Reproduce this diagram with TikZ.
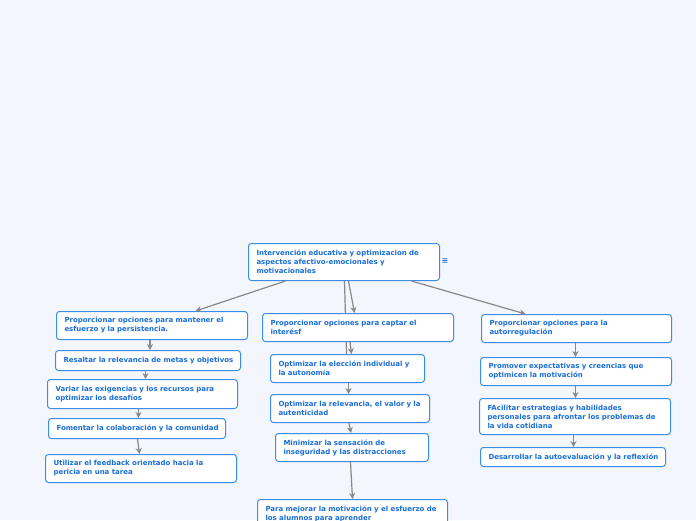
\documentclass[tikz,border=0pt]{standalone}
\usepackage{fontspec}
\setmainfont{DejaVu Sans}
\usetikzlibrary{arrows.meta}
\definecolor{canvas}{RGB}{244,246,253}
\definecolor{ideaborder}{RGB}{58,142,230}
\definecolor{ideatext}{RGB}{25,110,215}
\definecolor{linkgray}{RGB}{136,136,136}
\pgfdeclarelayer{canvas}
\pgfdeclarelayer{wire}
\pgfsetlayers{canvas,wire,main}
\tikzset{
  idea/.style={draw=ideaborder, fill=white, line width=1pt, rounded corners=3pt,
    anchor=north west, align=left, inner xsep=8pt, inner ysep=0pt,
    font=\fontsize{7}{9}\selectfont\bfseries, text=ideatext},
  link/.style={draw=linkgray, line width=1.2pt, -{Stealth[length=6pt,width=6pt]}},
}
\begin{document}
\begin{tikzpicture}[x=1pt,y=-1pt]
			% Canvas
			\useasboundingbox (0,0) rectangle (696,520);
			\clip (0,0) rectangle (696,520);
			\begin{pgfonlayer}{canvas}
				\fill[canvas] (0,0) rectangle (696,520);
			\end{pgfonlayer}

			% Central topic
			\node[idea, text width=175pt, minimum height=37pt] (root) at (248,243)
				{Intervención educativa y optimizacion de\\aspectos afectivo-emocionales y\\motivacionales};
			\node[font=\fontsize{8}{8}\selectfont\bfseries, text=ideatext, inner sep=0pt] (menu) at (445,261) {≡};

			% Left branch
			\node[idea, text width=175pt, minimum height=28pt] (l1) at (56,311)
				{Proporcionar opciones para mantener el\\esfuerzo y la persistencia.};
			\node[idea, text width=169pt, minimum height=20pt] (l2) at (55,350)
				{\mbox{Resaltar la relevancia de metas y objetivos}};
			\node[idea, text width=174pt, minimum height=29pt] (l3) at (47,379)
				{Variar las exigencias y los recursos para\\optimizar los desafíos};
			\node[idea, text width=161pt, minimum height=20pt] (l4) at (48,418)
				{\mbox{Fomentar la colaboración y la comunidad}};
			\node[idea, text width=175pt, minimum height=28pt] (l5) at (45,454)
				{Utilizar el feedback orientado hacia la\\pericia en una tarea};

			% Middle branch
			\node[idea, text width=175pt, minimum height=28pt] (m1) at (262,313)
				{Proporcionar opciones para captar el\\interésf};
			\node[idea, text width=138pt, minimum height=28pt] (m2) at (270,354)
				{Optimizar la elección individual y\\la autonomía};
			\node[idea, text width=143pt, minimum height=28pt] (m3) at (270,394)
				{Optimizar la relevancia, el valor y la\\autenticidad};
			\node[idea, text width=137pt, minimum height=28pt] (m4) at (275,433)
				{Minimizar la sensación de\\inseguridad y las distracciones};
			\node[idea, text width=174pt, minimum height=29pt] (m5) at (257,499)
				{Para mejorar la motivación y el esfuerzo de\\los alumnos para aprender};

			% Right branch
			\node[idea, text width=174pt, minimum height=28pt] (r1) at (481,314)
				{Proporcionar opciones para la\\autorregulación};
			\node[idea, text width=175pt, minimum height=28pt] (r2) at (480,357)
				{Promover expectativas y creencias que\\optimicen la motivación};
			\node[idea, text width=175pt, minimum height=36pt] (r3) at (479,398)
				{FAcilitar estrategias y habilidades\\personales para afrontar los problemas de\\la vida cotidiana};
			\node[idea, text width=169pt, minimum height=19pt] (r4) at (480,447)
				{\mbox{Desarrollar la autoevaluación y la reflexión}};

			% Hidden line behind the middle boxes
			\begin{pgfonlayer}{wire}
				\draw[linkgray, line width=1.2pt] ([xshift=0.5pt]root.south) -- ([xshift=-1pt]m2.north);
			\end{pgfonlayer}

			% Connectors from the central topic
			\draw[link] ([xshift=-58.5pt]root.south) -- ([xshift=43.5pt]l1.north);
			\draw[link] ([xshift=4.5pt]root.south) -- ([xshift=-3.5pt]m1.north);
			\draw[link] ([xshift=67.5pt]root.south) -- ([xshift=-51pt]r1.north);

			% Left chain
			\draw[link] ([xshift=-2pt]l1.south) -- ([xshift=2pt]l2.north);
			\draw[link] ([xshift=-2.5pt]l2.south) -- ([xshift=3pt]l3.north);
			\draw[link] ([xshift=-4pt]l3.south) -- ([xshift=1.5pt]l4.north);
			\draw[link] ([xshift=0.5pt]l4.south) -- ([xshift=-1.5pt]l5.north);

			% Middle chain
			\draw[link] ([xshift=-8pt]m1.south) -- ([xshift=4pt]m2.north);
			\draw[link] ([xshift=1pt]m2.south) -- ([xshift=-1.5pt]m3.north);
			\draw[link] ([xshift=-1pt]m3.south) -- ([xshift=-1pt]m4.north);
			\draw[link] ([xshift=-1.5pt]m4.south) -- (m5.north);

			% Right chain
			\draw[link] ([xshift=-1pt]r1.south) -- ([xshift=-0.5pt]r2.north);
			\draw[link] ([xshift=-0.5pt]r2.south) -- ([xshift=0.5pt]r3.north);
			\draw[link] ([xshift=-1.5pt]r3.south) -- ([xshift=0.5pt]r4.north);
		\end{tikzpicture}
\end{document}
